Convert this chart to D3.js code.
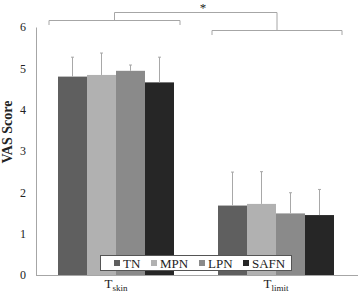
<!DOCTYPE html>
<html><head><meta charset="utf-8">
<script src="https://cdn.jsdelivr.net/npm/d3@7"></script>
<style>body{margin:0;background:#fff}svg{display:block}svg text{font-family:"Liberation Serif","DejaVu Serif",serif}</style>
</head><body><svg id="c" width="358" height="293"></svg>
<script>
const categories = ["skin", "limit"];
const series = ["TN", "MPN", "LPN", "SAFN"];
const colors = ["#5f5f5f", "#b1b1b1", "#8a8a8a", "#262626"];
const meanValues = [[4.80, 1.68], [4.84, 1.72], [4.94, 1.49], [4.66, 1.45]];
const errorTops = [[5.27, 2.49], [5.37, 2.50], [5.08, 1.99], [5.27, 2.07]];
const yTicks = [0, 1, 2, 3, 4, 5, 6];

const svg = d3.select("#c");
const y = d3.scaleLinear().domain([0, 6]).range([275, 27]);
const x0 = d3.scaleBand().domain(categories).range([36, 356]).paddingInner(0.275).paddingOuter(0.1375);
const x1 = d3.scaleBand().domain(series).range([0, x0.bandwidth()]).padding(0);

// axes
const yAxis = d3.axisLeft(y).tickValues(yTicks).tickFormat(d3.format("d")).tickSize(0).tickPadding(10);
const gy = svg.append("g").attr("transform", "translate(36,0)").call(yAxis);
gy.attr("font-family", null);
gy.select(".domain").attr("stroke", "#a6a6a6");
gy.selectAll("text").attr("font-size", 12).attr("fill", "#222");

const xAxis = d3.axisBottom(x0).tickSize(0).tickFormat("");
const gx = svg.append("g").attr("transform", "translate(0,275)").call(xAxis);
gx.select(".domain").attr("stroke", "#a6a6a6").attr("d", "M36,0.5H358");

// bars
const gs = svg.append("g");
series.forEach((s, si) => {
  categories.forEach((c, ci) => {
    const bx = x0(c) + x1(s);
    const v = meanValues[si][ci];
    const e = errorTops[si][ci];
    gs.append("rect").attr("x", bx).attr("y", y(v)).attr("width", x1.bandwidth())
      .attr("height", y(0) - y(v)).attr("fill", colors[si]);
    const cx = bx + x1.bandwidth() / 2;
    gs.append("line").attr("x1", cx).attr("x2", cx).attr("y1", y(v)).attr("y2", y(e))
      .attr("stroke", "#a8a8a8").attr("stroke-width", 1);
    gs.append("line").attr("x1", cx - 1.5).attr("x2", cx + 1.5).attr("y1", y(e)).attr("y2", y(e))
      .attr("stroke", "#a8a8a8").attr("stroke-width", 1);
  });
});

// category labels
categories.forEach(c => {
  const t = svg.append("text").attr("x", x0(c) + x0.bandwidth() / 2).attr("y", 288)
    .attr("text-anchor", "middle").attr("font-size", 13).attr("fill", "#222");
  t.append("tspan").text("T");
  t.append("tspan").attr("font-size", 9).attr("dy", 3).text(c);
});

// y label
svg.append("text").attr("transform", "translate(12,132) rotate(-90)").attr("text-anchor", "middle")
  .attr("font-size", 14).attr("font-weight", "bold").attr("fill", "#222")
  .text("VAS Score");

// significance brackets
const gb = svg.append("g").attr("fill", "none").attr("stroke", "#a6a6a6").attr("stroke-width", 1);
const l0 = x0("skin") - 9, r0 = x0("skin") + x0.bandwidth() + 6;
const l1 = x0("limit") - 6, r1 = x0("limit") + x0.bandwidth() + 8;
const m0 = (l0 + r0) / 2, m1 = (l1 + r1) / 2;
gb.append("path").attr("d", `M${l0},25V20.5H${r0}V25`);
gb.append("path").attr("d", `M${l1},35V30.5H${r1}V35`);
gb.append("path").attr("d", `M${m0},20.5V12.5H${m1}V30.5`);
svg.append("text").attr("x", 203).attr("y", 12).attr("text-anchor", "middle")
  .attr("font-size", 13).attr("fill", "#222").text("*");

// legend
const lg = svg.append("g");
lg.append("rect").attr("x", 100.5).attr("y", 255.5).attr("width", 191).attr("height", 15)
  .attr("fill", "#fff").attr("stroke", "#555");
const legX = [114, 151, 199, 243];
series.forEach((s, i) => {
  lg.append("rect").attr("x", legX[i]).attr("y", 260).attr("width", 6).attr("height", 6).attr("fill", colors[i]);
  lg.append("text").attr("x", legX[i] + 9).attr("y", 267.5)
    .attr("font-size", 13).attr("fill", "#222").text(s);
});
</script></body></html>
